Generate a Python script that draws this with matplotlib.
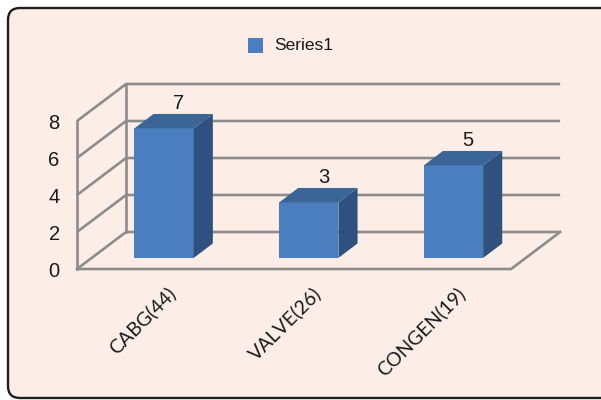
import matplotlib
matplotlib.use('Agg')
import matplotlib.pyplot as plt
from matplotlib.patches import Polygon, FancyBboxPatch, Rectangle
from matplotlib.transforms import IdentityTransform

categories = ['CABG(44)', 'VALVE(26)', 'CONGEN(19)']
values = [7, 3, 5]
series_name = 'Series1'
yticks = [0, 2, 4, 6, 8]

# pseudo 3d geometry (data units)
DX, DY = 0.339, 2.0      # floor depth offset
Z0, Z1 = 0.3, 0.69       # bar position within depth
BW = 0.41

c_front = '#4A7EBF'
c_top = '#3B6596'
c_side = '#2E5180'
c_grid = '#8C8C8C'
c_bg = '#FCEEE6'

fig = plt.figure(figsize=(6.01, 4.0), dpi=100)
fig.patch.set_facecolor('white')

frame = FancyBboxPatch((8, 2), 610, 390, boxstyle='round,pad=0,rounding_size=12',
                       transform=IdentityTransform(), facecolor=c_bg,
                       edgecolor='#1E1E1E', linewidth=1.7, zorder=-5)
fig.add_artist(frame)

ax = fig.add_axes([77/601, 1-269/400, 484/601, 185/400])
ax.set_xlim(-0.5, 2.845)
ax.set_ylim(0, 10)
ax.axis('off')
ax.patch.set_alpha(0)

x0, x1 = -0.5, len(categories) - 0.5
lw = 1.9
# walls / gridlines
for v in yticks:
    ax.plot([x0, x0 + DX, x1 + DX], [v, v + DY, v + DY], color=c_grid, lw=lw,
            solid_capstyle='butt', clip_on=False, zorder=1)
ax.plot([x0, x0], [0, yticks[-1]], color=c_grid, lw=lw, clip_on=False, zorder=1)
ax.plot([x0 + DX, x0 + DX], [DY, yticks[-1] + DY], color=c_grid, lw=lw, clip_on=False, zorder=1)
ax.plot([x0, x1, x1 + DX], [0, 0, DY], color=c_grid, lw=lw, clip_on=False, zorder=1)

for t in yticks:
    ax.text(x0 - 0.12, t - 0.15, str(t), ha='right', va='center', fontsize=14.5,
            family='Liberation Sans', color='#1A1A1A')

# bars
for i, v in enumerate(values):
    fx = i - BW/2 + Z0*DX
    fy = Z0*DY
    dx, dy = (Z1 - Z0)*DX, (Z1 - Z0)*DY
    ax.bar(fx, v, width=BW, bottom=fy, align='edge', color=c_front, zorder=3)
    ax.add_patch(Polygon([(fx + BW, fy), (fx + BW + dx, fy + dy),
                          (fx + BW + dx, fy + v + dy), (fx + BW, fy + v)],
                         closed=True, facecolor=c_side, edgecolor='none', zorder=3))
    ax.add_patch(Polygon([(fx, fy + v), (fx + BW, fy + v),
                          (fx + BW + dx, fy + v + dy), (fx + dx, fy + v + dy)],
                         closed=True, facecolor=c_top, edgecolor='none', zorder=3))
    ax.text(i + 0.6*DX, v + Z1*DY + 0.05, str(v), ha='center', va='bottom',
            fontsize=14.5, family='Liberation Sans', color='#1A1A1A')
    ax.text(i + 0.12, -0.8, categories[i], rotation=45, rotation_mode='anchor',
            ha='right', va='top', fontsize=14, family='Lato', color='#1A1A1A')

# legend
fig.add_artist(Rectangle((248, 400-53), 15, 15, transform=IdentityTransform(),
                         facecolor=c_front, edgecolor='none'))
fig.text(274/601, 1-46/400, series_name, ha='left', va='center', fontsize=12.5,
         family='Liberation Sans', color='#1A1A1A')

fig.savefig('out.png', dpi=100, facecolor=fig.get_facecolor())
